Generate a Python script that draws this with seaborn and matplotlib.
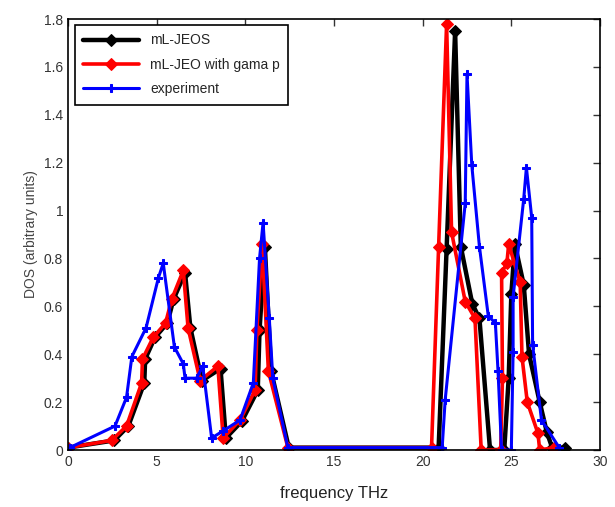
import numpy as np
import pandas as pd
import matplotlib
matplotlib.use("Agg")
import matplotlib.pyplot as plt
import seaborn as sns
from matplotlib.ticker import FormatStrFormatter

# ================= DATA =================
jeos_x = [0, 2.6, 3.4, 4.3, 4.35, 4.9, 5.6, 5.95, 6.6, 6.9, 7.55, 8.6, 8.9, 9.8,
          10.7, 10.8, 11.1, 11.45, 12.45, 20.9, 21.35, 21.83, 22.15, 22.8, 23.2,
          23.8, 24.6, 24.85, 25.0, 25.2, 25.7, 26.0, 26.6, 27.0, 27.3, 28.0]
jeos_y = [0.01, 0.04, 0.1, 0.28, 0.38, 0.47, 0.53, 0.63, 0.74, 0.51, 0.29, 0.34,
          0.05, 0.12, 0.25, 0.5, 0.85, 0.33, 0.01, 0.01, 0.84, 1.75, 0.85, 0.61,
          0.55, 0.0, 0.0, 0.3, 0.65, 0.86, 0.69, 0.4, 0.2, 0.075, 0.01, 0.01]

gama_x = [0, 2.46, 3.3, 4.15, 4.2, 4.8, 5.5, 5.85, 6.5, 6.77, 7.45, 8.45, 8.75,
          9.7, 10.55, 10.65, 10.95, 11.3, 12.4, 20.5, 20.9, 21.35, 21.63, 22.4,
          22.95, 23.3, 24.4, 24.5, 24.45, 24.75, 24.85, 25.5, 25.6, 25.9, 26.5,
          26.6, 27.4]
gama_y = [0.01, 0.04, 0.1, 0.28, 0.38, 0.47, 0.53, 0.63, 0.75, 0.51, 0.29, 0.35,
          0.05, 0.125, 0.25, 0.5, 0.86, 0.33, 0.01, 0.01, 0.85, 1.78, 0.91, 0.62,
          0.55, 0.0, 0.0, 0.3, 0.74, 0.78, 0.86, 0.70, 0.39, 0.2, 0.07, 0.0, 0.01]

exp_x = [0.1, 2.65, 3.3, 3.6, 4.4, 5.1, 5.37, 6.0, 6.5, 6.6, 7.25, 7.6, 8.1,
         8.75, 9.7, 10.45, 10.8, 11.0, 11.35, 11.55, 12.4, 21.1, 21.27, 22.4,
         22.5, 22.77, 23.2, 23.7, 24.1, 24.25, 24.45, 25.0, 25.1, 25.1, 25.7,
         25.85, 26.15, 26.2, 26.7, 27.7]
exp_y = [0.01, 0.1, 0.22, 0.39, 0.51, 0.72, 0.78, 0.43, 0.36, 0.3, 0.3, 0.35,
         0.05, 0.08, 0.125, 0.28, 0.8, 0.95, 0.55, 0.3, 0.01, 0.01, 0.21, 1.03,
         1.57, 1.19, 0.85, 0.56, 0.53, 0.33, 0.0, 0.0, 0.41, 0.64, 1.05, 1.18,
         0.97, 0.44, 0.125, 0.01]

labels = ["mL-JEOS", "mL-JEO with gama p", "experiment"]

# ================= PLOT =================
sns.set_style("white")
plt.rcParams["font.family"] = ["Liberation Sans", "DejaVu Sans"]

fig = plt.figure(figsize=(6.15, 5.07), dpi=100)
ax = fig.add_axes([0.1106, 0.1124, 0.865, 0.85])

sns.lineplot(x=jeos_x, y=jeos_y, sort=False, estimator=None, ax=ax,
             color="black", lw=3.2, marker="D", markersize=6.5, mec="black",
             label=labels[0])
sns.lineplot(x=gama_x, y=gama_y, sort=False, estimator=None, ax=ax,
             color="red", lw=2.6, marker="D", markersize=6.5, mec="red",
             label=labels[1])
sns.lineplot(x=exp_x, y=exp_y, sort=False, estimator=None, ax=ax,
             color="blue", lw=2.2, marker="P", markersize=5.5, mec="blue",
             label=labels[2])

ax.set_xlim(0, 30)
ax.set_ylim(0, 1.8)
ax.set_xticks(np.arange(0, 31, 5))
ax.set_yticks(np.arange(0, 1.81, 0.2))
ax.yaxis.set_major_formatter(FormatStrFormatter("%g"))
ax.tick_params(direction="in", top=True, right=True, length=5, width=1,
               labelsize=10, colors="#333333")
for s in ax.spines.values():
    s.set_color("black")
    s.set_linewidth(1.2)

ax.set_xlabel("frequency THz", fontsize=12, color="#222222", labelpad=12)
ax.set_ylabel("DOS (arbitrary units)", fontsize=10, color="#444444")

leg = ax.legend(loc="upper left", bbox_to_anchor=(0.013, 0.986), borderaxespad=0,
                fancybox=False, framealpha=1, edgecolor="black", fontsize=10,
                handlelength=4, borderpad=0.6, labelspacing=0.75)
leg.get_frame().set_linewidth(1.2)

fig.savefig("out.png", dpi=100)
